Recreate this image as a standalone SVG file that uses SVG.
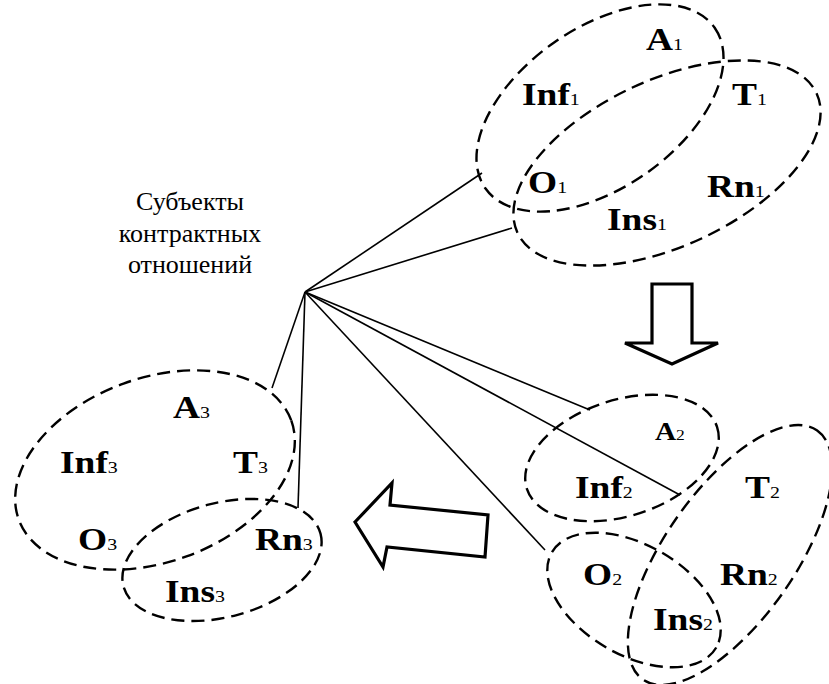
<svg xmlns="http://www.w3.org/2000/svg" width="829" height="684" viewBox="0 0 829 684">
<style>
.ring{fill:none;stroke:#000;stroke-width:2.4;stroke-dasharray:13 7}
.lbl{font-family:"Liberation Serif","Times New Roman",serif;font-weight:bold;font-size:32px;fill:#000}
.sub{font-weight:normal;font-size:17px}
.cap{font-family:"Liberation Serif","Times New Roman",serif;font-size:26px;fill:#000;text-anchor:middle}
.con{stroke:#000;stroke-width:1.6;fill:none}
.arr{fill:#fff;stroke:#000;stroke-width:3.2;stroke-linejoin:miter}
</style>
<rect width="829" height="684" fill="#fff"/>
<g id="connectors">
<line class="con" x1="305" y1="292" x2="482" y2="173"/>
<line class="con" x1="305" y1="292" x2="512" y2="228"/>
<line class="con" x1="305" y1="292" x2="272" y2="388"/>
<line class="con" x1="305" y1="292" x2="298" y2="508"/>
<line class="con" x1="305" y1="292" x2="590" y2="410"/>
<line class="con" x1="305" y1="292" x2="680" y2="495"/>
<line class="con" x1="305" y1="292" x2="545" y2="550"/>
</g>
<g id="label">
<text class="cap" x="190" y="210">Субъекты</text>
<text class="cap" x="190" y="242">контрактных</text>
<text class="cap" x="190" y="273">отношений</text>
</g>
<g id="cluster1">
<ellipse class="ring" cx="600" cy="108" rx="140" ry="80" transform="rotate(-35 600 108)"/>
<ellipse class="ring" cx="667" cy="163" rx="165" ry="83" transform="rotate(-25 667 163)"/>
<text class="lbl" transform="translate(646 50) scale(1.17 1)">A<tspan class="sub">1</tspan></text>
<text class="lbl" transform="translate(522 105) scale(1.17 1)">Inf<tspan class="sub">1</tspan></text>
<text class="lbl" transform="translate(732 105) scale(1.17 1)">T<tspan class="sub">1</tspan></text>
<text class="lbl" transform="translate(528 193) scale(1.17 1)">O<tspan class="sub">1</tspan></text>
<text class="lbl" transform="translate(707 197) scale(1.17 1)">Rn<tspan class="sub">1</tspan></text>
<text class="lbl" transform="translate(607 230) scale(1.17 1)">Ins<tspan class="sub">1</tspan></text>
</g>
<g id="cluster2">
<ellipse class="ring" cx="622" cy="458" rx="100" ry="58" transform="rotate(-18 622 458)"/>
<ellipse class="ring" cx="730" cy="555" rx="152" ry="65" transform="rotate(-55 730 555)"/>
<ellipse class="ring" cx="634" cy="600" rx="95" ry="55" transform="rotate(30 634 600)"/>
<text class="lbl" transform="translate(655 440) scale(1.17 1)" style="font-size:25px">A<tspan class="sub" style="font-size:15px">2</tspan></text>
<text class="lbl" transform="translate(575 498) scale(1.17 1)">Inf<tspan class="sub">2</tspan></text>
<text class="lbl" transform="translate(745 498) scale(1.17 1)">T<tspan class="sub">2</tspan></text>
<text class="lbl" transform="translate(583 585) scale(1.17 1)">O<tspan class="sub">2</tspan></text>
<text class="lbl" transform="translate(720 585) scale(1.17 1)">Rn<tspan class="sub">2</tspan></text>
<text class="lbl" transform="translate(653 630) scale(1.17 1)">Ins<tspan class="sub">2</tspan></text>
</g>
<g id="cluster3">
<ellipse class="ring" cx="155" cy="470" rx="145" ry="92" transform="rotate(-20 155 470)"/>
<ellipse class="ring" cx="222" cy="560" rx="102" ry="57" transform="rotate(-15 222 560)"/>
<text class="lbl" transform="translate(173 418) scale(1.17 1)">A<tspan class="sub">3</tspan></text>
<text class="lbl" transform="translate(60 473) scale(1.17 1)">Inf<tspan class="sub">3</tspan></text>
<text class="lbl" transform="translate(233 473) scale(1.17 1)">T<tspan class="sub">3</tspan></text>
<text class="lbl" transform="translate(78 550) scale(1.17 1)">O<tspan class="sub">3</tspan></text>
<text class="lbl" transform="translate(255 550) scale(1.17 1)">Rn<tspan class="sub">3</tspan></text>
<text class="lbl" transform="translate(165 602) scale(1.17 1)">Ins<tspan class="sub">3</tspan></text>
</g>
<g id="arrow-down">
<polygon class="arr" points="652,284 692,284 692,343 718,343 672,364 625,343 652,343"/>
</g>
<g id="arrow-left">
<polygon class="arr" points="355,522 392,483 390,505 488,515 485,557 387,547 383,567"/>
</g>
</svg>
